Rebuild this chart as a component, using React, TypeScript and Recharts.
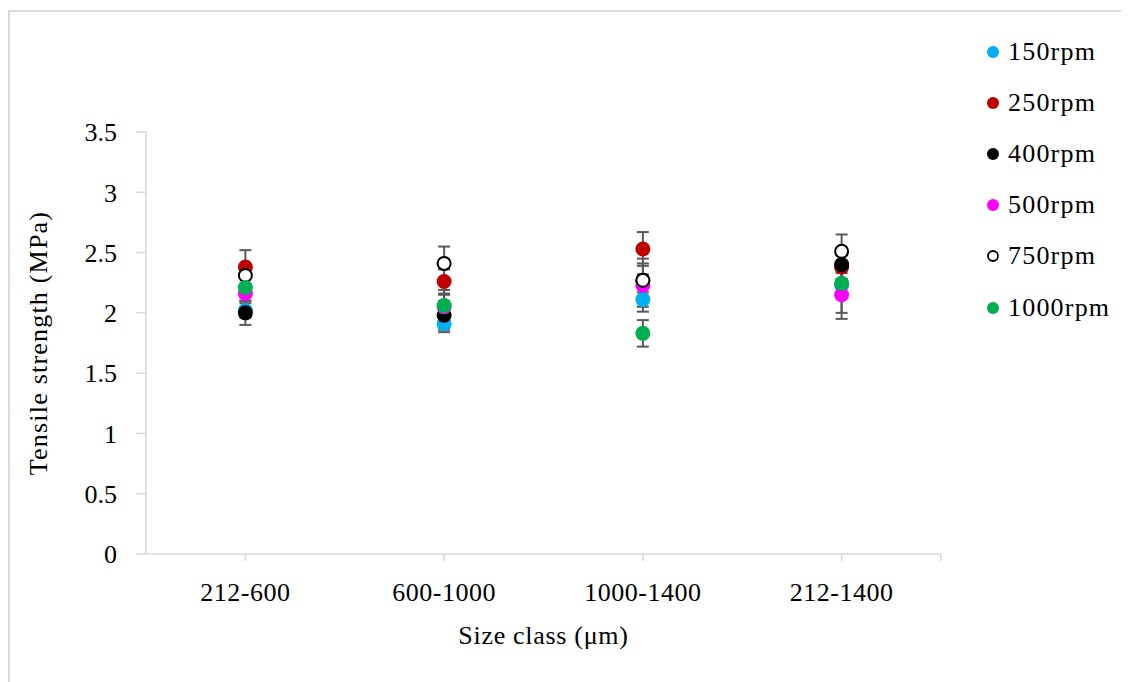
import {
  ScatterChart,
  Scatter,
  XAxis,
  YAxis,
  ErrorBar,
  Legend,
} from "recharts";

// size classes on the x axis (µm)
const categories = ["212-600", "600-1000", "1000-1400", "212-1400"];
const yTicks = [0, 0.5, 1, 1.5, 2, 2.5, 3, 3.5];

// mean tensile strength (MPa) per size class, one list per speed
const rpm150 = [2.02, 1.91, 2.11, 2.23];
const rpm250 = [2.38, 2.26, 2.53, 2.38];
const rpm400 = [2.0, 1.98, 2.27, 2.4];
const rpm500 = [2.16, 2.05, 2.23, 2.15];
const rpm750 = [2.31, 2.41, 2.27, 2.51];
const rpm1000 = [2.21, 2.06, 1.83, 2.245];

// standard deviations
const err150 = [0.06, 0.07, 0.06, 0.1];
const err250 = [0.14, 0.1, 0.14, 0.1];
const err400 = [0.1, 0.12, 0.05, 0.12];
const err500 = [0.06, 0.1, 0.22, 0.2];
const err750 = [0.08, 0.14, 0.14, 0.14];
const err1000 = [0.08, 0.13, 0.11, 0.245];

const series = [
  { name: "150rpm", vals: rpm150, errs: err150, fill: "#00b0f0", stroke: "none" },
  { name: "250rpm", vals: rpm250, errs: err250, fill: "#c00000", stroke: "none" },
  { name: "400rpm", vals: rpm400, errs: err400, fill: "#000000", stroke: "none" },
  { name: "500rpm", vals: rpm500, errs: err500, fill: "#ff00ff", stroke: "none" },
  { name: "750rpm", vals: rpm750, errs: err750, fill: "#ffffff", stroke: "#000000" },
  { name: "1000rpm", vals: rpm1000, errs: err1000, fill: "#00b050", stroke: "none" },
];

const FONT = "'Liberation Serif', 'Times New Roman', serif";
const AXIS = "#d9d9d9";

function toPoints(vals: number[], errs: number[]) {
  return vals.map((v, i) => ({ x: i + 1, y: v, err: errs[i] }));
}

function dot(fill: string, stroke: string) {
  return (p: any) => (
    <circle
      cx={p.cx}
      cy={p.cy}
      r={stroke === "none" ? 7.5 : 6.5}
      fill={fill}
      stroke={stroke}
      strokeWidth={stroke === "none" ? 0 : 2}
    />
  );
}

function LegendBox() {
  return (
    <div style={{ fontFamily: FONT, fontSize: 26, color: "#000" }}>
      {series.map((s) => (
        <div key={s.name} style={{ display: "flex", alignItems: "center", height: 51.2 }}>
          <svg width={16} height={16} style={{ marginRight: 7 }}>
            <circle
              cx={8}
              cy={8}
              r={s.stroke === "none" ? 6 : 5}
              fill={s.fill}
              stroke={s.stroke}
              strokeWidth={s.stroke === "none" ? 0 : 1.8}
            />
          </svg>
          <span style={{ letterSpacing: 1.2 }}>{s.name}</span>
        </div>
      ))}
    </div>
  );
}

export default function App() {
  return (
    <div style={{ position: "relative", width: 1121, height: 674, overflow: "hidden" }}>
      <div
        style={{
          position: "absolute",
          left: 0,
          top: 2,
          width: 1140,
          height: 700,
          borderTop: `2px solid ${AXIS}`,
          borderLeft: `2px solid ${AXIS}`,
          boxSizing: "border-box",
        }}
      />
      <ScatterChart
        width={1121}
        height={674}
        margin={{ top: 124, right: 188, bottom: 8, left: 78 }}
        style={{ position: "absolute", left: 0, top: 0 }}
      >
        <XAxis
          type="number"
          dataKey="x"
          domain={[0.5, 4.5]}
          ticks={[1, 2, 3, 4, 4.5]}
          tickFormatter={(v: number) => categories[v - 1] ?? ""}
          interval={0}
          height={120}
          stroke={AXIS}
          strokeWidth={1.5}
          tickSize={7}
          tickMargin={22}
          tick={{ fill: "#000", fontFamily: FONT, fontSize: 26, letterSpacing: 0.5 }}
          label={{
            value: "Size class (μm)",
            position: "insideBottom",
            offset: 30,
            fill: "#000",
            fontFamily: FONT,
            fontSize: 26,
            letterSpacing: 0.7,
          }}
        />
        <YAxis
          type="number"
          dataKey="y"
          domain={[0, 3.5]}
          ticks={yTicks}
          interval={0}
          width={60}
          stroke={AXIS}
          strokeWidth={1.5}
          tickSize={10}
          tickMargin={19}
          tick={{ fill: "#000", fontFamily: FONT, fontSize: 26 }}
          label={{
            value: "Tensile strength (MPa)",
            angle: -90,
            position: "center",
            dx: -78,
            fill: "#000",
            fontFamily: FONT,
            fontSize: 26,
            letterSpacing: 1.2,
          }}
        />
        <Legend
          layout="horizontal"
          verticalAlign="middle"
          align="center"
          wrapperStyle={{ left: 977, top: 18, width: 144 }}
          content={() => <LegendBox />}
        />
        {series.map((s) => (
          <Scatter
            key={s.name}
            name={s.name}
            data={toPoints(s.vals, s.errs)}
            fill={s.fill}
            shape={dot(s.fill, s.stroke)}
            isAnimationActive={false}
          >
            <ErrorBar dataKey="err" direction="y" width={6} stroke="#595959" strokeWidth={2} />
          </Scatter>
        ))}
      </ScatterChart>
    </div>
  );
}
